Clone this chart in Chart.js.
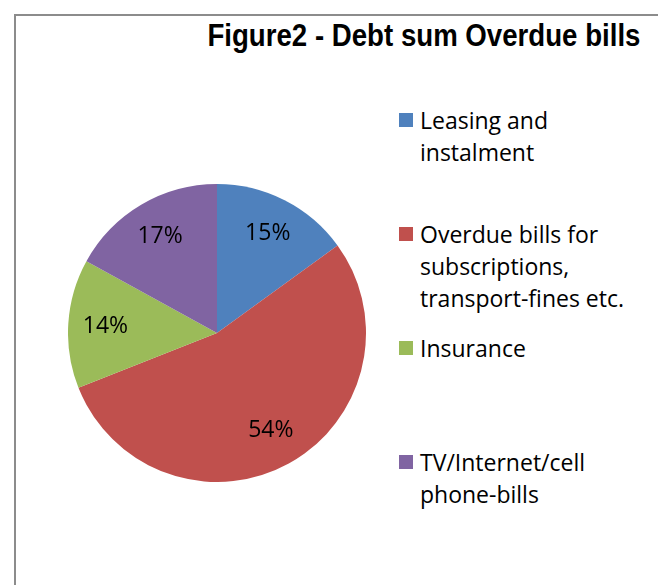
<!DOCTYPE html>
<html>
<head>
<meta charset="utf-8">
<title>Figure2 - Debt sum Overdue bills</title>
<script src="https://cdn.jsdelivr.net/npm/chart.js@4/dist/chart.umd.min.js"></script>
<style>
  body { margin: 0; background: #fff; }
  #wrap { position: relative; width: 658px; height: 585px; overflow: hidden; }
  #frame { position: absolute; left: 14px; top: 14px; width: 700px; height: 700px; border: 1px solid #8c8c8c; border-width: 2px 0 0 2px; }
  #title { position: absolute; right: 18px; top: 17px; white-space: nowrap; transform-origin: right top;
    font-family: 'Liberation Sans', Arial, sans-serif; font-weight: bold; font-size: 32px; color: #000; }
  #chartBox { position: absolute; left: 68px; top: 184px; width: 298px; height: 298px; }
  #legend { position: absolute; left: 399px; top: 104px; font-family: 'Open Sans', sans-serif; font-size: 23px; color: #000; }
  .item { position: absolute; left: 0; white-space: nowrap; }
  .box { position: absolute; left: 0; top: 9px; width: 14px; height: 14px; }
  .txt { position: absolute; left: 21px; top: 0; line-height: 32px; }
</style>
</head>
<body>
<div id="wrap">
  <div id="frame"></div>
  <div id="title">Figure2 - Debt sum Overdue bills</div>
  <div id="chartBox"><canvas id="myChart" width="298" height="298"></canvas></div>
  <div id="legend"></div>
</div>
<script>
'use strict';

// chart values
let categories = [
  ['Leasing and', 'instalment'],
  ['Overdue bills for', 'subscriptions,', 'transport-fines etc.'],
  ['Insurance'],
  ['TV/Internet/cell', 'phone-bills']
];
let shares = [15, 54, 14, 17];
let sliceColors = ['#4F81BD', '#C0504D', '#9BBB59', '#8064A2'];

// writes the percent text inside each slice, a bit out from the middle
let sliceLabels = {
  id: 'sliceLabels',
  afterDatasetsDraw(chart){
    let ctx = chart.ctx;
    let meta = chart.getDatasetMeta(0);
    let data = chart.data.datasets[0].data;
    let total = data.reduce((a, b) => a + b, 0);
    ctx.save();
    ctx.font = '23px "Open Sans", sans-serif';
    ctx.fillStyle = '#000';
    ctx.textAlign = 'center';
    ctx.textBaseline = 'middle';
    for (let i = 0; i < meta.data.length; i++){
      let arc = meta.data[i];
      let mid = (arc.startAngle + arc.endAngle) / 2;
      let r = arc.outerRadius * 0.75;
      let x = arc.x + Math.cos(mid) * r;
      let y = arc.y + Math.sin(mid) * r;
      ctx.fillText(Math.round(data[i] / total * 100) + '%', x, y);
    }
    ctx.restore();
  }
};

let ctx = document.getElementById('myChart').getContext('2d');
let myChart = new Chart(ctx, {
  type: 'pie',
  data: {
    labels: categories,
    datasets: [{
      data: shares,
      backgroundColor: sliceColors,
      borderWidth: 0
    }]
  },
  options: {
    responsive: false,
    animation: false,
    layout: { padding: 0 },
    plugins: {
      legend: { display: false },
      tooltip: { enabled: false }
    }
  },
  plugins: [sliceLabels]
});

// legend on the right, one slot per category
function renderLegend(){
  let legend = document.getElementById('legend');
  let slot = 114;
  for (let i = 0; i < myChart.data.labels.length; i++){
    let item = document.createElement('div');
    item.className = 'item';
    item.style.top = (i * slot) + 'px';
    let box = document.createElement('div');
    box.className = 'box';
    box.style.background = myChart.data.datasets[0].backgroundColor[i];
    let txt = document.createElement('div');
    txt.className = 'txt';
    txt.innerHTML = myChart.data.labels[i].join('<br>');
    item.appendChild(box);
    item.appendChild(txt);
    legend.appendChild(item);
  }
}

// squeeze the title so it looks like a narrow font
function fitTitle(){
  let title = document.getElementById('title');
  let w = title.getBoundingClientRect().width;
  title.style.transform = 'scaleX(' + (433 / w) + ')';
}

renderLegend();
fitTitle();
</script>
</body>
</html>
